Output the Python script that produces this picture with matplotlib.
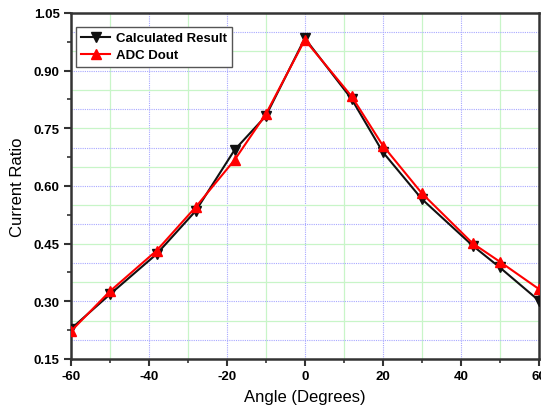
import matplotlib.pyplot as plt
import numpy as np

plt.rcParams['font.family'] = ['Liberation Sans', 'DejaVu Sans']

angle = [-60, -50, -38, -28, -18, -10, 0, 12, 20, 30, 43, 50, 60]
calculated = [0.228, 0.318, 0.423, 0.535, 0.694, 0.782, 0.984, 0.826, 0.688, 0.566, 0.445, 0.388, 0.302]
adc_dout = [0.222, 0.326, 0.432, 0.545, 0.668, 0.787, 0.980, 0.833, 0.705, 0.581, 0.451, 0.403, 0.332]

xticks = [-60, -40, -20, 0, 20, 40, 60]
yticks = [0.15, 0.30, 0.45, 0.60, 0.75, 0.90, 1.05]

fig = plt.figure(figsize=(5.41, 4.10), dpi=100)
ax = fig.add_axes([0.131, 0.122, 0.865, 0.844])

# grid: blue dotted on every 20 deg / 0.1, green solid in between
for gx in np.arange(-50, 60, 10):
    if gx % 20 == 0:
        ax.axvline(gx, color='#a8a8ff', lw=0.8, ls=(0, (1, 1)), zorder=0)
    else:
        ax.axvline(gx, color='#c8f5c8', lw=0.9, zorder=0)
for gy in np.arange(0.20, 1.05, 0.05):
    if round(gy * 100) % 10 == 0:
        ax.axhline(gy, color='#a8a8ff', lw=0.8, ls=(0, (1, 1)), zorder=0)
    else:
        ax.axhline(gy, color='#c8f5c8', lw=0.9, zorder=0)

ax.plot(angle, calculated, color='#111111', lw=1.5, marker='v', ms=6.5,
        label='Calculated Result', zorder=3)
ax.plot(angle, adc_dout, color='#ff0000', lw=1.5, marker='^', ms=6.5,
        label='ADC Dout', zorder=4)

ax.set_xlim(-60, 60)
ax.set_ylim(0.15, 1.05)
ax.set_xticks(xticks)
ax.set_yticks(yticks)
ax.set_xticks(np.arange(-50, 60, 20), minor=True)
ax.set_yticks(np.arange(0.225, 1.05, 0.15), minor=True)
ax.set_xticklabels([str(t) for t in xticks], fontweight='bold', fontsize=9.5)
ax.set_yticklabels(['%.2f' % t for t in yticks], fontweight='bold', fontsize=9.5)
ax.tick_params(which='major', direction='out', length=5, width=1.5, color='#333333', pad=3)
ax.tick_params(which='minor', direction='out', length=3, width=1.2, color='#333333')
for s in ax.spines.values():
    s.set_linewidth(1.8)
    s.set_color('#333333')

ax.set_xlabel('Angle (Degrees)', fontsize=12, labelpad=5)
ax.set_ylabel('Current Ratio', fontsize=12, labelpad=6)

leg = ax.legend(loc='upper left', bbox_to_anchor=(0.0, 0.975),
                prop={'weight': 'bold', 'size': 9.5},
                fancybox=False, edgecolor='#555555', framealpha=1,
                handlelength=2.2, borderpad=0.4, labelspacing=0.35,
                handletextpad=0.4, borderaxespad=0.4)
leg.get_frame().set_linewidth(1.0)

fig.savefig('out.png', dpi=100)
